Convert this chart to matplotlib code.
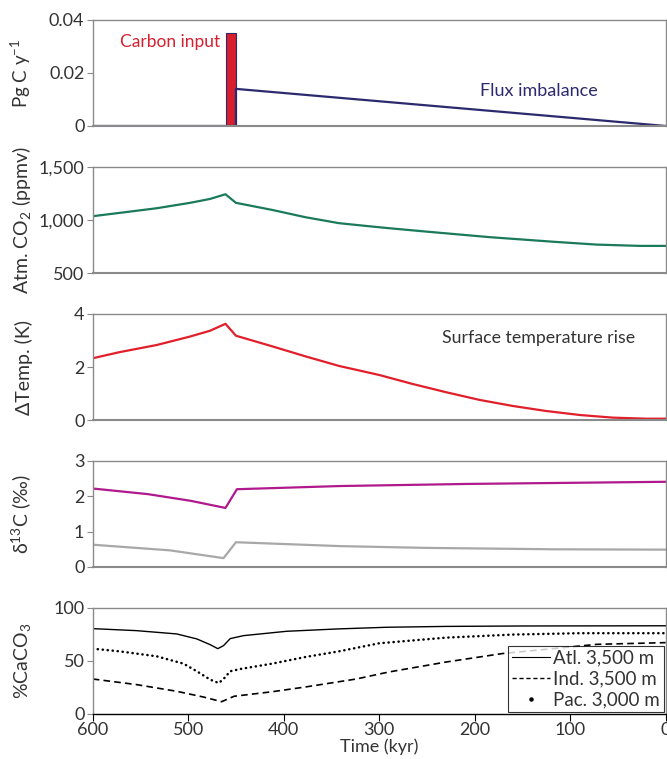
import numpy as np
import matplotlib
matplotlib.use('Agg')
import matplotlib.pyplot as plt
from matplotlib.lines import Line2D

plt.rcParams['font.family'] = ['Lato', 'DejaVu Sans']
plt.rcParams['mathtext.fontset'] = 'custom'
plt.rcParams['mathtext.rm'] = 'Lato'
plt.rcParams['mathtext.it'] = 'Lato:italic'

# ---- data (time in kyr, axis runs 600 -> 0) ----
pulse_time = 455
pulse_width = 10
pulse_value = 0.035

flux_t = [600, 450, 450, 0]
flux_v = [0, 0, 0.014, 0]

co2_t = [600, 572, 533, 498, 477, 461, 450, 412, 377, 342, 307, 290, 251, 184, 116, 72, 27, 0]
co2_v = [1038, 1069, 1113, 1164, 1201, 1245, 1164, 1097, 1028, 972, 940, 925, 893, 840, 796, 770, 758, 758]

temp_t = [600, 572, 533, 498, 477, 461, 450, 412, 377, 342, 300, 265, 230, 195, 160, 125, 90, 55, 20, 0]
temp_v = [2.33, 2.56, 2.83, 3.15, 3.37, 3.63, 3.18, 2.78, 2.40, 2.04, 1.70, 1.36, 1.05, 0.76,
          0.53, 0.34, 0.19, 0.09, 0.05, 0.05]

d13c_top_t = [600, 542, 497, 461, 449, 341, 206, 0]
d13c_top_v = [2.22, 2.06, 1.87, 1.67, 2.20, 2.29, 2.35, 2.41]
d13c_bot_t = [600, 519, 463, 450, 341, 251, 116, 0]
d13c_bot_v = [0.63, 0.47, 0.25, 0.70, 0.59, 0.54, 0.50, 0.49]

atl_t = [600, 554, 512, 491, 477, 469, 463, 456, 442, 397, 344, 292, 230, 150, 0]
atl_v = [80.5, 78.6, 75.5, 70.8, 65.4, 61.6, 64.5, 71.1, 73.9, 78, 80.2, 81.8, 82.6, 83, 83.2]
pac_t = [600, 572, 533, 505, 491, 477, 468, 463, 456, 445, 412, 377, 342, 300, 230, 160, 90, 0]
pac_v = [61.6, 59.1, 54.4, 47.5, 40.3, 32.4, 29.2, 33, 40.3, 42.5, 47.5, 53.8, 59.1, 66.7,
         72, 74.9, 76.2, 76.2]
ind_t = [600, 554, 512, 484, 465, 452, 412, 377, 324, 290, 230, 171, 72, 0]
ind_v = [33, 27.7, 21.4, 16, 11.6, 16.7, 21, 25.5, 33, 39.6, 49, 57, 65.7, 67.3]

tick_color = '#333333'
spine_color = '#8a8a8a'

fig = plt.figure(figsize=(6.67, 7.59), dpi=100)
left, width, height = 0.139, 0.859, 0.1397
bottoms = [0.834, 0.640, 0.4466, 0.253, 0.0593]
axes = [fig.add_axes([left, b, width, height]) for b in bottoms]

for ax in axes:
    ax.set_xlim(600, 0)
    for s in ax.spines.values():
        s.set_color(spine_color)
        s.set_linewidth(1.0)
    ax.spines['bottom'].set_linewidth(1.5)
    ax.tick_params(axis='y', colors=spine_color, labelcolor=tick_color,
                   labelsize=13, length=4, width=0.8, pad=2)
    ax.tick_params(axis='x', bottom=False, labelbottom=False)
    ax.yaxis.set_label_coords(-0.105, 0.5)

# panel 1: carbon input and flux imbalance
ax = axes[0]
ax.bar(pulse_time, pulse_value, width=pulse_width, color='#d71f2e',
       edgecolor='#2c2a66', linewidth=0.8)
ax.plot(flux_t, flux_v, color='#2c2a6e', lw=1.6)
ax.set_ylim(0, 0.04)
ax.set_yticks([0, 0.02, 0.04])
ax.set_yticklabels(['0', '0.02', '0.04'])
ax.set_ylabel('Pg C y$^{-1}$', fontsize=13.5, color=tick_color)
ax.text(571, 0.0317, 'Carbon input', color='#d71f2e', fontsize=12.5, va='center')
ax.text(194, 0.0132, 'Flux imbalance', color='#2c2a6e', fontsize=13, va='center')

# panel 2: atmospheric CO2
ax = axes[1]
ax.plot(co2_t, co2_v, color='#1a7a5a', lw=1.6)
ax.set_ylim(500, 1500)
ax.set_yticks([500, 1000, 1500])
ax.set_yticklabels(['500', '1,000', '1,500'])
ax.set_ylabel('Atm. CO$_2$ (ppmv)', fontsize=14, color=tick_color)

# panel 3: temperature
ax = axes[2]
ax.plot(temp_t, temp_v, color='#e11f2b', lw=1.6)
ax.set_ylim(0, 4)
ax.set_yticks([0, 2, 4])
ax.set_ylabel('ΔTemp. (K)', fontsize=14, color=tick_color)
ax.text(234, 3.09, 'Surface temperature rise', color='#333333', fontsize=12.8, va='center')

# panel 4: d13C
ax = axes[3]
ax.plot(d13c_top_t, d13c_top_v, color='#b0198c', lw=1.6)
ax.plot(d13c_bot_t, d13c_bot_v, color='#a8a8a8', lw=1.6)
ax.set_ylim(0, 3)
ax.set_yticks([0, 1, 2, 3])
ax.set_ylabel('δ$^{13}$C (‰)', fontsize=14, color=tick_color)

# panel 5: %CaCO3
ax = axes[4]
ax.plot(atl_t, atl_v, color='black', lw=1.0)
ax.plot(ind_t, ind_v, color='black', lw=1.2, ls=(0, (4, 2.5)))
ax.plot(pac_t, pac_v, color='black', lw=1.8, ls=(0, (0.1, 1.9)), dash_capstyle='round')
ax.set_ylim(0, 100)
ax.set_yticks([0, 50, 100])
ax.set_xticks([600, 500, 400, 300, 200, 100, 0])
ax.tick_params(axis='x', bottom=True, labelbottom=True, colors='black',
               labelcolor=tick_color, labelsize=13, length=5, width=0.8, pad=1)
ax.spines['bottom'].set_color('black')
ax.spines['bottom'].set_linewidth(1.0)
ax.set_xlabel('Time (kyr)', fontsize=13, color=tick_color, labelpad=0)
ax.set_ylabel('%CaCO$_3$', fontsize=14, color=tick_color)

handles = [
    Line2D([], [], color='black', lw=0.8),
    Line2D([], [], color='black', lw=1.0, ls=(0, (3, 2))),
    Line2D([], [], color='black', ls='none', marker='o', ms=2.2),
]
labels = ['Atl. 3,500 m', 'Ind. 3,500 m', 'Pac. 3,000 m']
leg = ax.legend(handles, labels, loc='lower right', fontsize=13.5, frameon=True,
                fancybox=False, borderaxespad=0.1, handlelength=2.0,
                handletextpad=0.2, borderpad=0.2, labelspacing=0.2)
leg.get_frame().set_edgecolor('black')
leg.get_frame().set_linewidth(0.8)
for t in leg.get_texts():
    t.set_color(tick_color)

fig.savefig('out.png', dpi=100)
